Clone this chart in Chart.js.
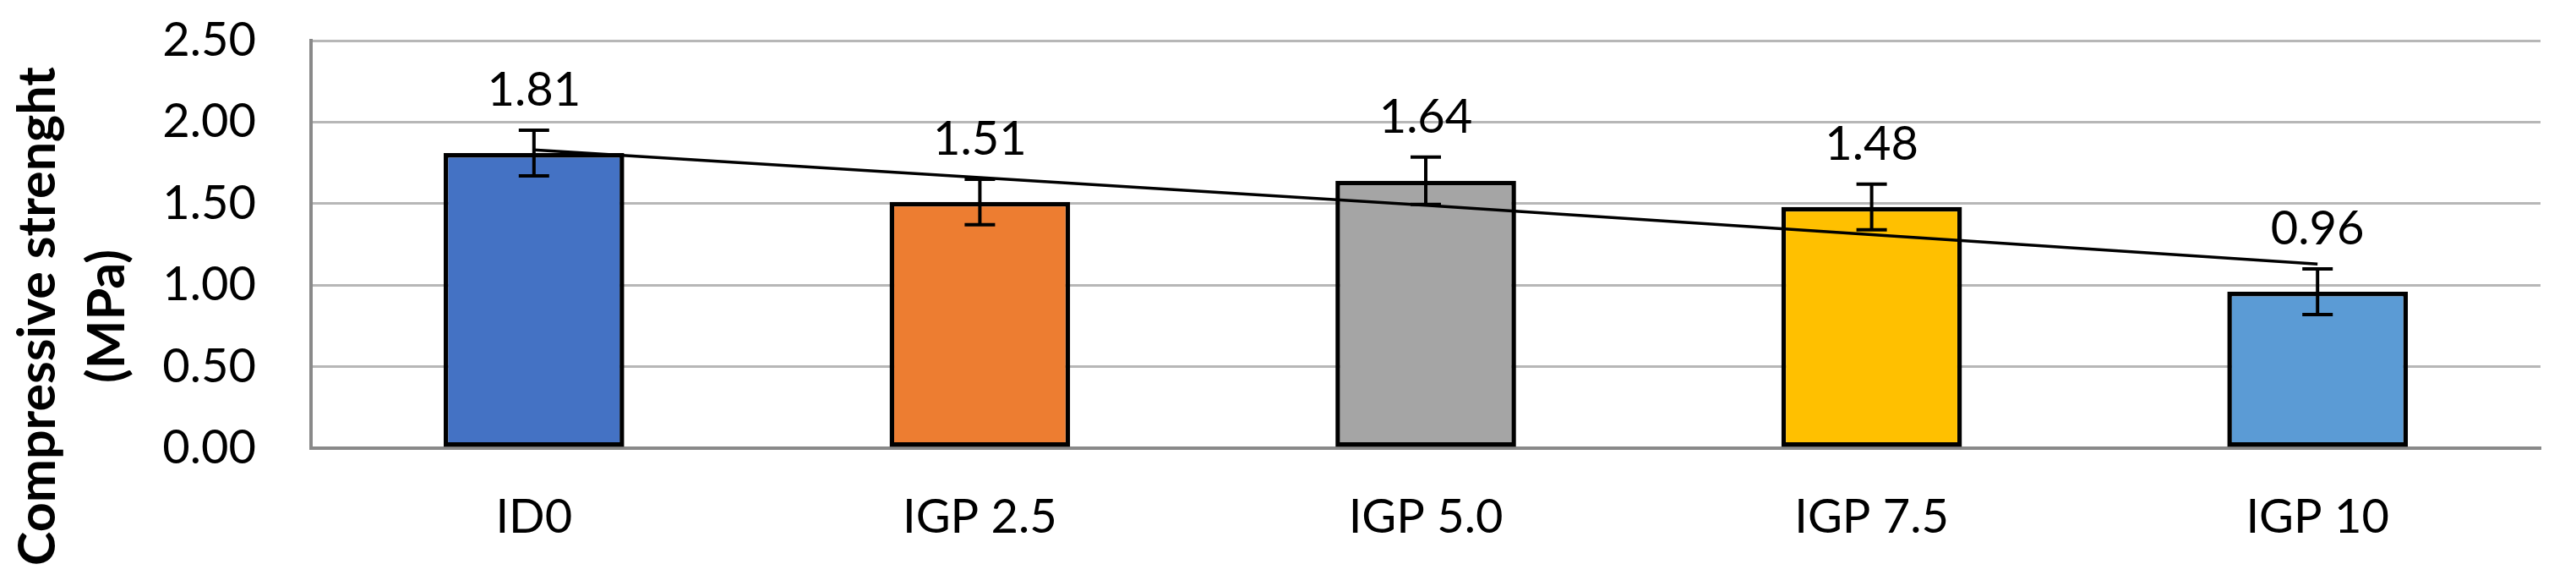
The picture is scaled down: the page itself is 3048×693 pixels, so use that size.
<!DOCTYPE html>
<html>
<head>
<meta charset="utf-8">
<script src="https://cdn.jsdelivr.net/npm/chart.js@4.4.1/dist/chart.umd.min.js"></script>
<style>
  html, body { margin: 0; padding: 0; background: #fff; }
  #wrap { width: 3048px; height: 693px; }
</style>
</head>
<body>
<div id="wrap"><canvas id="chart" width="3048" height="693"></canvas></div>
<script>
// --- dados ---
const categorias = ['ID0', 'IGP 2.5', 'IGP 5.0', 'IGP 7.5', 'IGP 10'];
const resistencia = [1.81, 1.51, 1.64, 1.48, 0.96];
const desvio = [0.14, 0.14, 0.145, 0.14, 0.14];
const tendencia = [1.83, 1.66, 1.49, 1.31, 1.13];
const coresBarras = ['#4472C4', '#ED7D31', '#A5A5A5', '#FFC000', '#5B9BD5'];
const ticksY = [0, 0.5, 1, 1.5, 2, 2.5];

const tituloY = ['Compressive strenght', '(MPa)'];

// barras de erro + rótulos de valor
const pluginErros = {
    id: 'erros',
    afterDatasetsDraw(chart) {
        const ctx = chart.ctx;
        const x = chart.scales.x;
        const y = chart.scales.y;
        ctx.save();
        ctx.strokeStyle = '#000';
        ctx.lineWidth = 4;
        resistencia.forEach((v, i) => {
            const cx = x.getPixelForValue(i);
            const yTop = y.getPixelForValue(v + desvio[i]);
            const yBot = y.getPixelForValue(v - desvio[i]);
            ctx.beginPath();
            ctx.moveTo(cx, yTop); ctx.lineTo(cx, yBot);
            ctx.moveTo(cx - 18, yTop); ctx.lineTo(cx + 18, yTop);
            ctx.moveTo(cx - 18, yBot); ctx.lineTo(cx + 18, yBot);
            ctx.stroke();

            ctx.fillStyle = '#000';
            ctx.font = '56px Lato';
            ctx.textAlign = 'center';
            ctx.textBaseline = 'alphabetic';
            ctx.fillText(v.toFixed(2), cx, yTop - 29);
        });
        ctx.restore();
    }
};

// título do eixo Y (desenhado à mão para ficar na mesma posição do original)
const pluginTitulo = {
    id: 'tituloY',
    afterDraw(chart) {
        const ctx = chart.ctx;
        ctx.save();
        ctx.fillStyle = '#000';
        ctx.font = 'bold 61px Lato';
        ctx.textAlign = 'center';
        ctx.textBaseline = 'alphabetic';
        ctx.translate(0, 374);
        ctx.rotate(-Math.PI / 2);
        ctx.fillText(tituloY[0], 0, 65);
        ctx.fillText(tituloY[1], 0, 147);
        ctx.restore();
    }
};

new Chart(document.getElementById('chart'), {
    data: {
        labels: categorias,
        datasets: [
            {
                type: 'line',
                data: tendencia,
                borderColor: '#000',
                borderWidth: 3.5,
                pointRadius: 0,
                fill: false,
                order: 0
            },
            {
                type: 'bar',
                data: resistencia,
                backgroundColor: coresBarras,
                borderColor: '#000',
                borderWidth: 5.5,
                borderSkipped: false,
                categoryPercentage: 1,
                barPercentage: 0.405,
                order: 1
            }
        ]
    },
    options: {
        responsive: false,
        animation: false,
        devicePixelRatio: 1,
        layout: { padding: { top: 48, right: 42, bottom: 0, left: 0 } },
        plugins: {
            legend: { display: false },
            tooltip: { enabled: false }
        },
        scales: {
            x: {
                grid: { display: false, drawTicks: false },
                border: { display: true, color: '#898989', width: 4 },
                ticks: {
                    color: '#000',
                    font: { family: 'Lato', size: 56 },
                    padding: 48
                },
                afterFit(scale) { scale.height = 163; scale.paddingLeft = 0; scale.paddingRight = 0; }
            },
            y: {
                min: 0,
                max: 2.5,
                afterBuildTicks(scale) { scale.ticks = ticksY.map(v => ({ value: v })); },
                grid: { color: '#B7B7B7', lineWidth: 3, drawTicks: false },
                border: { display: true, color: '#898989', width: 4 },
                ticks: {
                    color: '#000',
                    font: { family: 'Lato', size: 56 },
                    padding: 65,
                    callback: v => v.toFixed(2)
                },
                afterFit(scale) { scale.width = 368; scale.paddingTop = 0; scale.paddingBottom = 0; }
            }
        }
    },
    plugins: [pluginErros, pluginTitulo]
});
</script>
</body>
</html>
